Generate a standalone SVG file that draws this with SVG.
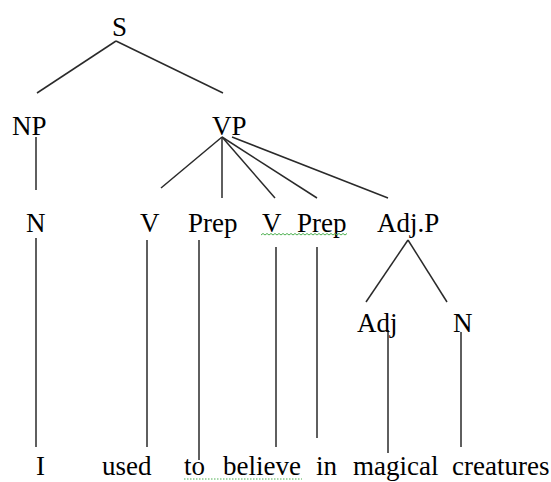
<svg xmlns="http://www.w3.org/2000/svg" width="551" height="482" viewBox="0 0 551 482">
<style>
text{font-family:"Liberation Serif","Times New Roman",serif;font-size:27px;fill:#000}
.e line{stroke:#2a2a2a;stroke-width:1.5;fill:none}
.sq{stroke:#4caf50;stroke-width:1;fill:none}
</style>
<rect width="551" height="482" fill="#fff"/>
<g id="connectors" class="e">
<line x1="116" y1="41" x2="37" y2="93"/>
<line x1="116" y1="41" x2="223" y2="93"/>
<line x1="36" y1="137" x2="36" y2="190"/>
<line x1="222" y1="137" x2="161" y2="188"/>
<line x1="222" y1="137" x2="222" y2="198"/>
<line x1="222" y1="137" x2="275" y2="198"/>
<line x1="222" y1="137" x2="317" y2="198"/>
<line x1="232" y1="137" x2="388" y2="198"/>
<line x1="408" y1="240" x2="366" y2="302"/>
<line x1="408" y1="240" x2="447" y2="302"/>
<line x1="36" y1="238" x2="36" y2="447"/>
<line x1="147" y1="240" x2="147" y2="447"/>
<line x1="199" y1="240" x2="199" y2="460"/>
<line x1="276" y1="247" x2="276" y2="447"/>
<line x1="317" y1="247" x2="317" y2="438"/>
<line x1="388" y1="330" x2="388" y2="453"/>
<line x1="461" y1="332" x2="461" y2="447"/>
</g>
<g id="S"><text x="112" y="36">S</text></g>
<g id="NP"><text x="12" y="135">NP</text></g>
<g id="VP"><text x="212" y="135">VP</text></g>
<g id="N1"><text x="26" y="232">N</text></g>
<g id="V1"><text x="140" y="232">V</text></g>
<g id="Prep1"><text x="188" y="232">Prep</text></g>
<g id="V2"><text x="262" y="232">V</text></g>
<g id="Prep2"><text x="297" y="232">Prep</text></g>
<g id="AdjP"><text x="377" y="232">Adj.P</text></g>
<g id="Adj"><text x="357" y="332">Adj</text></g>
<g id="N2"><text x="453" y="332">N</text></g>
<g id="w-I"><text x="36" y="475">I</text></g>
<g id="w-used"><text x="102" y="475">used</text></g>
<g id="w-to"><text x="184" y="475">to</text></g>
<g id="w-believe"><text x="223" y="475">believe</text></g>
<g id="w-in"><text x="316" y="475">in</text></g>
<g id="w-magical"><text x="353" y="475">magical</text></g>
<g id="w-creatures"><text x="452" y="475">creatures</text></g>
<path class="sq" d="M261 235 l2 -1.5 l2 1.5 l2 -1.5 l2 1.5 l2 -1.5 l2 1.5 l2 -1.5 l2 1.5 l2 -1.5 l2 1.5 l2 -1.5 l2 1.5 l2 -1.5 l2 1.5 l2 -1.5 l2 1.5 l2 -1.5 l2 1.5 l2 -1.5 l2 1.5 l2 -1.5 l2 1.5 l2 -1.5 l2 1.5 l2 -1.5 l2 1.5 l2 -1.5 l2 1.5 l2 -1.5 l2 1.5 l2 -1.5 l2 1.5 l2 -1.5 l2 1.5 l2 -1.5 l2 1.5 l2 -1.5 l2 1.5 l2 -1.5 l2 1.5 l2 -1.5 l2 1.5 l2 -1.5"/>
<line class="sq" x1="184" y1="479" x2="302" y2="479" stroke-dasharray="1.5,1.5"/>
</svg>
